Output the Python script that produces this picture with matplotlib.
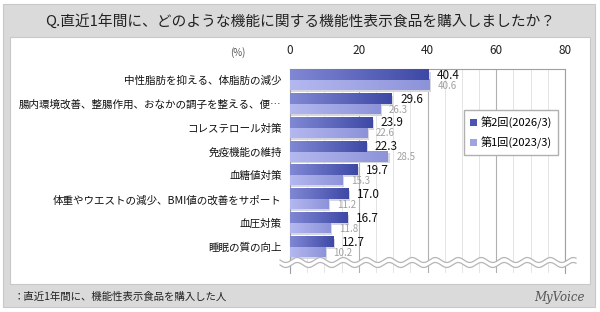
import numpy as np
import matplotlib.pyplot as plt
from matplotlib.patches import Rectangle
from matplotlib.lines import Line2D
from matplotlib.colors import to_rgb

plt.rcParams['font.family'] = ['Noto Sans CJK JP', 'DejaVu Sans']

categories = ['中性脂肪を抑える、体脂肪の減少',
              '腸内環境改善、整腸作用、おなかの調子を整える、便…',
              'コレステロール対策',
              '免疫機能の維持',
              '血糖値対策',
              '体重やウエストの減少、BMI値の改善をサポート',
              '血圧対策',
              '睡眠の質の向上']
val_2026 = [40.4, 29.6, 23.9, 22.3, 19.7, 17.0, 16.7, 12.7]
val_2023 = [40.6, 26.3, 22.6, 28.5, 15.3, 11.2, 11.8, 10.2]
ticks = [0, 20, 40, 60, 80]

fig = plt.figure(figsize=(6, 3.12), dpi=100)

# background frame
W, H = 600, 312
def box(x0, y0, x1, y1, **kw):
    fig.patches.append(Rectangle((x0 / W, 1 - y1 / H), (x1 - x0) / W, (y1 - y0) / H,
                                 transform=fig.transFigure, **kw))
box(3, 4, 595, 307, facecolor='#dadada', edgecolor='#c8c8c8', lw=0.8, zorder=-2)
box(10, 37, 590, 284, facecolor='white', edgecolor='#c8c8c8', lw=0.8, zorder=-1)

fig.text(300 / W, 1 - 21 / H, 'Q.直近1年間に、どのような機能に関する機能性表示食品を購入しましたか？',
         ha='center', va='center', fontsize=10.6, color='#222222')
fig.text(14 / W, 1 - 297 / H, '：直近1年間に、機能性表示食品を購入した人',
         ha='left', va='center', fontsize=7.5, color='#222222')
fig.text(585 / W, 1 - 297 / H, 'MyVoice', ha='right', va='center', fontsize=8.5,
         color='#555555', family='DejaVu Serif', style='italic')

ax = fig.add_axes([290 / W, 1 - 273 / H, 275 / W, 204 / H])
ax.set_facecolor('none')
ax.set_zorder(1)

y = np.arange(len(categories))
h = 0.42

def grad_bar(x1, yc, c0, c1, z):
    t = np.linspace(0, 1, 64)
    a = np.array(to_rgb(c0))
    b = np.array(to_rgb(c1))
    img = (a + (b - a) * t[:, None])[None, :, :]
    # shadow
    ax.add_patch(Rectangle((0, yc - h / 2 + 0.08), x1 + 0.5, h, facecolor='#d6d6de',
                           edgecolor='none', zorder=z - 1))
    ax.imshow(img, extent=(0, x1, yc + h / 2, yc - h / 2), aspect='auto',
              interpolation='bilinear', zorder=z)

for i in range(len(categories)):
    grad_bar(val_2026[i], y[i] - 0.21, '#8088d4', '#3e49a6', 4)
    grad_bar(val_2023[i], y[i] + 0.21, '#b4b8f0', '#8d93d9', 3)
    ax.text(val_2026[i] + 2.4, y[i] - 0.2, f'{val_2026[i]:.1f}', ha='left', va='center',
            fontsize=8.5, color='#111111', zorder=6)
    ax.text(val_2023[i] + 2.4, y[i] + 0.24, f'{val_2023[i]:.1f}', ha='left', va='center',
            fontsize=7, color='#a0a0a0', zorder=6)

ax.set_xlim(0, 80)
ax.set_ylim(8.09, -0.46)
ax.set_xticks(ticks)
ax.set_xticks(np.arange(0, 81, 5), minor=True)
ax.xaxis.tick_top()
ax.tick_params(axis='x', which='both', length=0, pad=9, labelsize=8.5, labelcolor='#222222')
ax.set_yticks(y)
ax.set_yticklabels(categories, fontsize=7.6, color='#111111')
ax.tick_params(axis='y', length=0, pad=6)
ax.grid(axis='x', which='minor', color='#e4e4e4', lw=0.7, zorder=1)
ax.grid(axis='x', which='major', color='#b0b0b0', lw=0.8, zorder=1)
ax.set_axisbelow(True)
for s in ['top', 'right', 'left']:
    ax.spines[s].set_color('#a0a0a0')
    ax.spines[s].set_linewidth(0.8)
ax.spines['bottom'].set_visible(False)

fig.text(238 / W, 1 - 53 / H, '(%)', ha='center', va='center', fontsize=7, color='#555555')

# wavy break
xs = np.linspace(280, 576, 400)
wave = 2.5 * np.sin((xs - 280) / 23 * 2 * np.pi)
yu = 260 + wave
yl = 265 + wave
poly = plt.Polygon(np.column_stack([np.r_[xs, xs[::-1]] / W, 1 - np.r_[yu, yl[::-1]] / H]),
                   closed=True, transform=fig.transFigure, facecolor='white',
                   edgecolor='none', zorder=5)
fig.patches.append(poly)
fig.lines.append(Line2D(xs / W, 1 - yu / H, transform=fig.transFigure, color='#b5b5b5', lw=0.9, zorder=6))
fig.lines.append(Line2D(xs / W, 1 - yl / H, transform=fig.transFigure, color='#b5b5b5', lw=0.9, zorder=6))

handles = [Rectangle((0, 0), 1, 1, facecolor='#4a55b0'),
           Rectangle((0, 0), 1, 1, facecolor='#9ea3e2')]
leg = ax.legend(handles, ['第2回(2026/3)', '第1回(2023/3)'], loc='upper left',
                bbox_to_anchor=((458 - 290) / 275, (273 - 104) / 204), fontsize=8,
                fancybox=False, edgecolor='#b0b0b0', handlelength=0.6, handleheight=0.6,
                handletextpad=0.3, borderpad=0.6, labelspacing=0.7, framealpha=1)
leg.set_zorder(10)

fig.savefig('out.png', dpi=100)
